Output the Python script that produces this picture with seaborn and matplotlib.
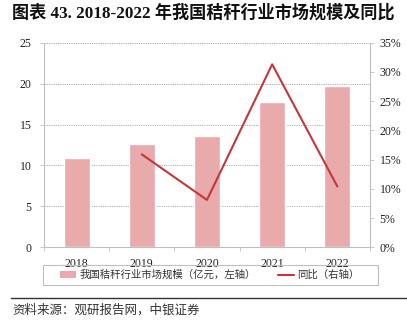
import matplotlib
matplotlib.use("Agg")
import matplotlib.pyplot as plt
import seaborn as sns
import pandas as pd
from matplotlib.ticker import FuncFormatter, MultipleLocator
from matplotlib.lines import Line2D
from matplotlib.patches import Patch, Rectangle

years = ["2018", "2019", "2020", "2021", "2022"]
market_size = [10.9, 12.6, 13.6, 17.8, 19.7]
yoy_years = ["2019", "2020", "2021", "2022"]
yoy_pct = [15.9, 8.1, 31.3, 10.4]

title = "图表 43. 2018-2022 年我国秸秆行业市场规模及同比"
bar_label = "我国秸秆行业市场规模（亿元，左轴）"
line_label = "同比（右轴）"
source = "资料来源：观研报告网，中银证券"

sns.set_theme(style="white")
plt.rcParams["font.family"] = ["Liberation Serif", "Noto Sans CJK SC", "DejaVu Sans"]

bar_color = "#E8AAAA"
line_color = "#C0393B"
spine_color = "#BFBFBF"

fig = plt.figure(figsize=(4.07, 3.31), dpi=100)
ax = fig.add_axes([0.108, 0.253, 0.801, 0.618])

df = pd.DataFrame({"year": years, "size": market_size})
sns.barplot(data=df, x="year", y="size", color=bar_color, width=0.4,
            saturation=1, ax=ax, zorder=2)
ax.set_xlim(-0.5, 4.5)
ax.set_ylim(0, 25)
ax.yaxis.set_major_locator(MultipleLocator(5))
ax.set_xlabel("")
ax.set_ylabel("")
for y in [5, 10, 15, 20, 25]:
    ax.axhline(y, color="#A6A6A6", lw=0.6, ls=(0, (1.5, 1.2)), zorder=1)

ax2 = ax.twinx()
xpos = [years.index(y) for y in yoy_years]
ldf = pd.DataFrame({"x": xpos, "v": yoy_pct})
sns.lineplot(data=ldf, x="x", y="v", color=line_color, lw=1.5, ax=ax2, zorder=3)
ax2.set_ylim(0, 35)
ax2.yaxis.set_major_locator(MultipleLocator(5))
ax2.yaxis.set_major_formatter(FuncFormatter(lambda v, p: f"{int(v)}%"))
ax2.set_xlabel("")
ax2.set_ylabel("")
ax2.set_xlim(-0.5, 4.5)

for a in (ax, ax2):
    a.spines["top"].set_visible(False)
    for s in ("left", "right", "bottom"):
        a.spines[s].set_color(spine_color)
        a.spines[s].set_linewidth(0.8)

ax.spines["right"].set_visible(False)
ax2.spines["left"].set_visible(False)
ax2.spines["bottom"].set_visible(False)

ax.tick_params(axis="y", which="both", left=True, length=3, width=0.6,
               color=spine_color, labelsize=8.5, pad=6, labelcolor="#222222")
ax2.tick_params(axis="y", right=True, length=3, width=0.6, color=spine_color,
                labelsize=8.5, pad=4, labelcolor="#222222")
ax.set_xticks(range(5))
ax.set_xticklabels(years)
ax.tick_params(axis="x", bottom=False, labelsize=8.5, pad=2, labelcolor="#222222")
ax.set_xticks([-0.5, 0.5, 1.5, 2.5, 3.5, 4.5], minor=True)
ax.tick_params(axis="x", which="minor", bottom=True, length=3, width=0.6, color=spine_color)

# legend frame
fig.add_artist(Rectangle((43 / 407, 1 - 285 / 331), (378 - 43) / 407, 20 / 331,
                         transform=fig.transFigure, facecolor="none",
                         edgecolor="#BFBFBF", lw=0.8))
handles = [Patch(facecolor=bar_color, edgecolor="none"),
           Line2D([0], [0], color=line_color, lw=1.5)]
leg = fig.legend(handles, [bar_label, line_label], loc="center",
                 bbox_to_anchor=(0.515, 0.169), ncol=2, frameon=False,
                 handlelength=1.6, handleheight=0.6,
                 columnspacing=2.1, borderpad=0.3,
                 handletextpad=0.3,
                 prop={"family": ["Noto Sans CJK SC"], "size": 7.5})
for t in leg.get_texts():
    t.set_color("#333333")

fig.text(0.03, 0.962, title, fontsize=12.3, fontweight="bold", ha="left", va="center",
         family=["Liberation Serif", "Noto Sans CJK SC"], color="#111111")

fig.add_artist(Line2D([0.028, 1.0], [0.099, 0.099], color="#333333", lw=1.0))
fig.text(0.03, 0.063, source, fontsize=9, ha="left", va="center",
         family=["Noto Sans CJK SC"], style="italic", color="#333333")

fig.savefig("out.png", dpi=100)
